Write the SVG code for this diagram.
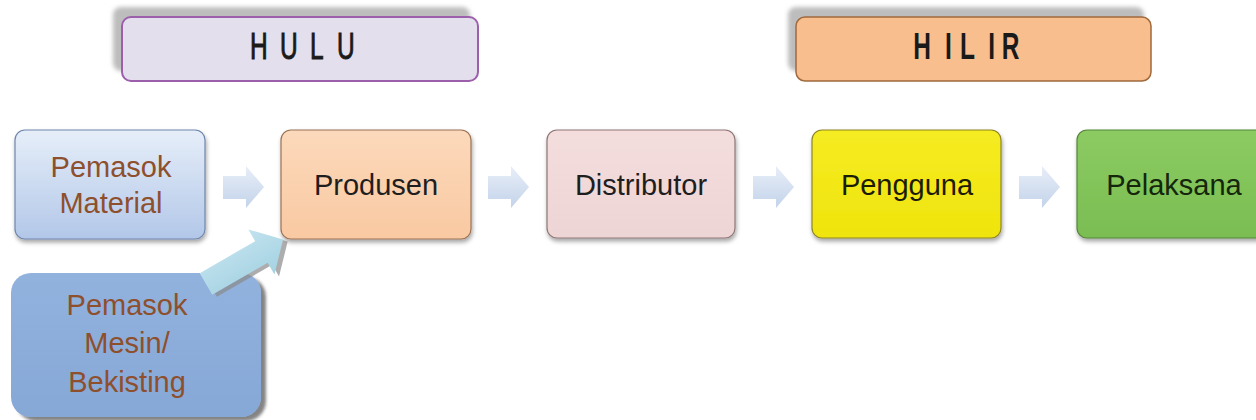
<svg xmlns="http://www.w3.org/2000/svg" width="1256" height="420" viewBox="0 0 1256 420">
<style>
.lbl{font-family:"Liberation Sans",Arial,sans-serif;font-size:29px;text-anchor:middle}
.dark{fill:#1e1e1e}
.brown{fill:#8e4f2c}
.head{font-family:"Liberation Sans",Arial,sans-serif;font-size:36px;fill:#1a1a1a}
.arrow{fill:url(#gArrow)}
</style>
<defs>
<filter id="sh" x="-10%" y="-10%" width="125%" height="130%">
<feDropShadow dx="1" dy="3" stdDeviation="2" flood-color="#000" flood-opacity="0.35"/>
</filter>
<filter id="sh2" x="-10%" y="-10%" width="125%" height="130%">
<feDropShadow dx="5" dy="4" stdDeviation="1.5" flood-color="#333" flood-opacity="0.6"/>
</filter>
<filter id="blur"><feGaussianBlur stdDeviation="2"/></filter>
<linearGradient id="gBlue" x1="0" y1="0" x2="0" y2="1"><stop offset="0" stop-color="#e6eef9"/><stop offset="1" stop-color="#b2c7e8"/></linearGradient>
<linearGradient id="gPeach" x1="0" y1="0" x2="0" y2="1"><stop offset="0" stop-color="#fcd9bb"/><stop offset="1" stop-color="#f9c9a2"/></linearGradient>
<linearGradient id="gPink" x1="0" y1="0" x2="0" y2="1"><stop offset="0" stop-color="#f4dddd"/><stop offset="1" stop-color="#eed5d5"/></linearGradient>
<linearGradient id="gYellow" x1="0" y1="0" x2="0" y2="1"><stop offset="0" stop-color="#f6ec22"/><stop offset="1" stop-color="#efe40c"/></linearGradient>
<linearGradient id="gGreen" x1="0" y1="0" x2="0" y2="1"><stop offset="0" stop-color="#8ccb62"/><stop offset="1" stop-color="#7abd52"/></linearGradient>
<linearGradient id="gMesin" x1="0" y1="0" x2="0" y2="1"><stop offset="0" stop-color="#92b2de"/><stop offset="1" stop-color="#86a8d6"/></linearGradient>
<linearGradient id="gArrow" x1="0" y1="0" x2="0" y2="1"><stop offset="0" stop-color="#e8eef8"/><stop offset="1" stop-color="#c3d3ea"/></linearGradient>
<linearGradient id="gCyan" x1="0" y1="0" x2="0" y2="1"><stop offset="0" stop-color="#c2e2ee"/><stop offset="1" stop-color="#a4d2e2"/></linearGradient>
</defs>

<g id="hulu">
<rect x="113" y="7" width="357" height="64" rx="8" fill="#bdbdbd" filter="url(#blur)"/>
<rect x="122" y="17" width="356" height="64" rx="9" fill="#e4dfec" stroke="#9b5fab" stroke-width="2"/>
<text class="head" stroke="#1a1a1a" stroke-width="1" transform="scale(0.68,1)" x="367.6 411.8 455.9 495.6" y="59">HULU</text>
</g>

<g id="hilir">
<rect x="788" y="7" width="356" height="64" rx="8" fill="#bdbdbd" filter="url(#blur)"/>
<rect x="796" y="17" width="355" height="64" rx="9" fill="#f8be8d" stroke="#a06a3c" stroke-width="1.5"/>
<text class="head" font-weight="bold" transform="scale(0.68,1)" x="1343 1389.7 1411.8 1453.4 1473" y="59">HILIR</text>
</g>

<g id="pemasok-material">
<rect x="15" y="130" width="190" height="109" rx="10" fill="url(#gBlue)" stroke="#6e86ad" stroke-width="1.2" filter="url(#sh)"/>
<text class="lbl brown" x="111" y="177">Pemasok</text>
<text class="lbl brown" x="111" y="213">Material</text>
</g>

<g id="produsen">
<rect x="281" y="130" width="190" height="109" rx="10" fill="url(#gPeach)" stroke="#9a7256" stroke-width="1.2" filter="url(#sh)"/>
<text class="lbl dark" x="376" y="195">Produsen</text>
</g>

<g id="distributor">
<rect x="547" y="130" width="188" height="108" rx="10" fill="url(#gPink)" stroke="#8e7676" stroke-width="1.2" filter="url(#sh)"/>
<text class="lbl dark" x="641" y="195">Distributor</text>
</g>

<g id="pengguna">
<rect x="812" y="130" width="189" height="108" rx="10" fill="url(#gYellow)" stroke="#8e8626" stroke-width="1.2" filter="url(#sh)"/>
<text class="lbl" fill="#1c1c06" x="907" y="195">Pengguna</text>
</g>

<g id="pelaksana">
<rect x="1077" y="130" width="190" height="108" rx="10" fill="url(#gGreen)" stroke="#55853a" stroke-width="1.2" filter="url(#sh)"/>
<text class="lbl" fill="#14260c" x="1174" y="195">Pelaksana</text>
</g>

<g id="pemasok-mesin">
<rect x="11" y="273" width="250" height="144" rx="20" fill="url(#gMesin)" filter="url(#sh2)"/>
<text class="lbl brown" x="127" y="315">Pemasok</text>
<text class="lbl brown" x="127" y="353">Mesin/</text>
<text class="lbl brown" x="127" y="392">Bekisting</text>
</g>

<g id="connectors">
<path class="arrow" d="M223,176 L246,176 L246,166 L264,187 L246,208 L246,199 L223,199 Z"/>
<path class="arrow" d="M488,176 L511,176 L511,166 L529,187 L511,208 L511,199 L488,199 Z"/>
<path class="arrow" d="M753,176 L776,176 L776,166 L794,187 L776,208 L776,199 L753,199 Z"/>
<path class="arrow" d="M1019,176 L1042,176 L1042,166 L1060,187 L1042,208 L1042,199 L1019,199 Z"/>
<g transform="translate(206,284) rotate(-30)">
<path d="M0,-12.5 L64,-12.5 L64,-26 L89,0 L64,26 L64,12.5 L0,12.5 Z" fill="#8a8a8a" transform="translate(3,4)" opacity="0.7"/>
<path d="M0,-12.5 L64,-12.5 L64,-26 L89,0 L64,26 L64,12.5 L0,12.5 Z" fill="url(#gCyan)"/>
</g>
</g>
</svg>
